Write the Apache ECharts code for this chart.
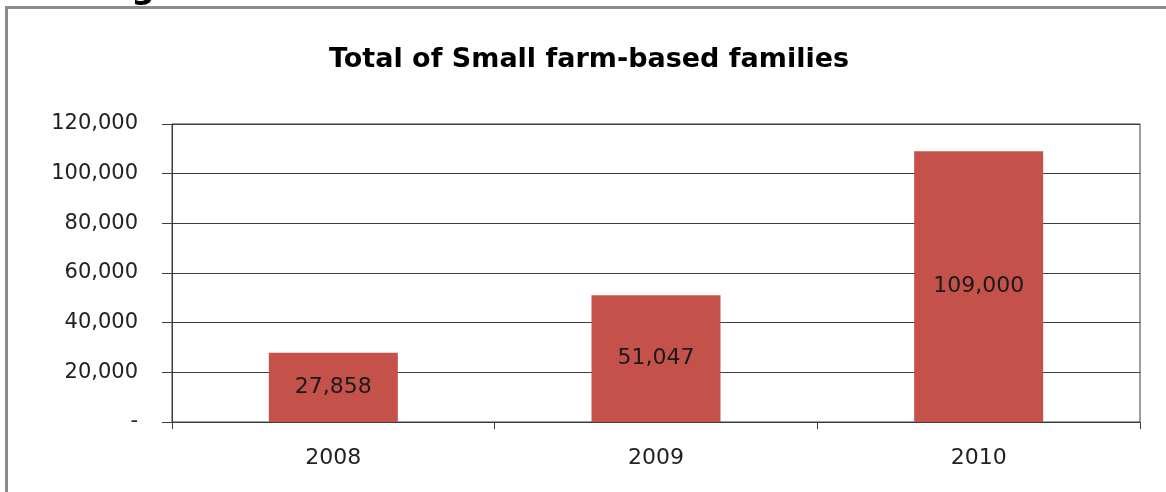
<!DOCTYPE html>
<html>
<head>
<meta charset="utf-8">
<script src="https://cdn.jsdelivr.net/npm/echarts@6/dist/echarts.min.js"></script>
<style>
html,body{margin:0;padding:0;background:#fff;overflow:hidden;}
#c{width:1166px;height:492px;}
</style>
</head>
<body>
<div id="c"></div>
<script>
var categories = ['2008', '2009', '2010'];
var familyTotals = [27858, 51047, 109000];
var yTicks = [0, 20000, 40000, 60000, 80000, 100000, 120000];
var titleText = 'Total of Small farm-based families';

function fmt(v) {
  if (v === 0) return '-';
  return String(v).replace(/\B(?=(\d{3})+(?!\d))/g, ',');
}

var lineColor = '#3c3c3c';
var chart = echarts.init(document.getElementById('c'), null, {renderer: 'canvas'});
chart.setOption({
  animation: false,
  backgroundColor: '#ffffff',
  title: {
    text: titleText,
    left: 584,
    top: 41,
    textAlign: 'center',
    textStyle: {fontFamily: 'DejaVu Sans', fontWeight: 'bold', fontSize: 27, color: '#000'}
  },
  graphic: [
    {type: 'polyline', z: 100, silent: true,
     shape: {points: [[6.5, 800], [6.5, 7.5], [1500, 7.5]]},
     style: {fill: 'none', stroke: '#8c8c8c', lineWidth: 3}},
    {type: 'text', z: 101, silent: true, x: 143, y: 6,
     style: {text: 'g', fontFamily: 'DejaVu Sans', fontWeight: 'bold', fontSize: 33,
             fill: '#000', align: 'center', verticalAlign: 'bottom'}}
  ],
  grid: {
    left: 172, right: 26, top: 124, bottom: 70,
    show: true, borderColor: lineColor, borderWidth: 1, backgroundColor: 'transparent'
  },
  xAxis: {
    type: 'category',
    data: categories,
    axisLine: {show: true, lineStyle: {color: lineColor, width: 1}},
    axisTick: {show: true, length: 7, alignWithLabel: false, lineStyle: {color: lineColor}},
    axisLabel: {fontFamily: 'DejaVu Sans', fontSize: 22, color: '#222', margin: 25}
  },
  yAxis: {
    type: 'value',
    min: yTicks[0],
    max: yTicks[yTicks.length - 1],
    interval: yTicks[1] - yTicks[0],
    axisLine: {show: true, lineStyle: {color: lineColor, width: 1}},
    axisTick: {show: true, length: 10, lineStyle: {color: lineColor}},
    splitLine: {show: true, lineStyle: {color: lineColor, width: 1}},
    axisLabel: {fontFamily: 'DejaVu Sans', fontSize: 21, color: '#222', margin: 34,
                formatter: fmt}
  },
  series: [{
    type: 'bar',
    data: familyTotals,
    barWidth: 129,
    itemStyle: {color: '#C4524A'},
    label: {
      show: true,
      position: 'inside',
      formatter: function (p) { return fmt(p.value); },
      fontFamily: 'DejaVu Sans',
      fontSize: 22,
      color: '#1a1a1a'
    }
  }]
});
</script>
</body>
</html>
